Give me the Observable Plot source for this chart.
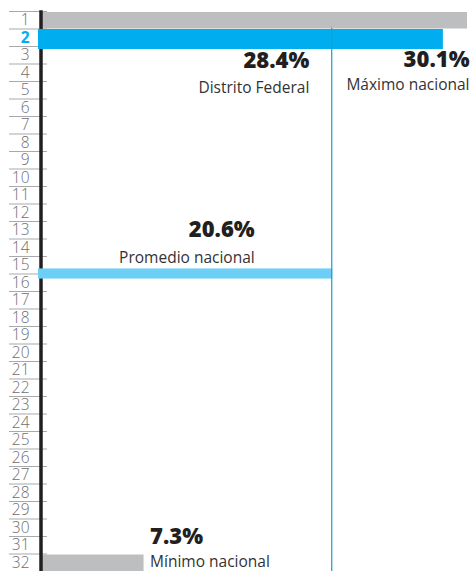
<!DOCTYPE html>
<html>
<head>
<meta charset="utf-8">
<script src="https://cdn.jsdelivr.net/npm/d3@7"></script>
<script src="https://cdn.jsdelivr.net/npm/@observablehq/plot@0.6"></script>
<style>
  html, body { margin: 0; padding: 0; background: #fff; }
  svg { display: block; }
</style>
</head>
<body>
<div id="chart"></div>
<script>
// Data
const ranks = [1,2,3,4,5,6,7,8,9,10,11,12,13,14,15,16,17,18,19,20,21,22,23,24,25,26,27,28,29,30,31,32];
const highlightRank = 2;
const barRanks = [1, 2, 32];
const barValues = [30.1, 28.4, 7.3];
const barNames = ["Máximo nacional", "Distrito Federal", "Mínimo nacional"];
const barLabels = ["30.1%", "28.4%", "7.3%"];
const promedioValue = 20.6;
const promedioRank = 15.5; // between positions 15 and 16
const promedioName = "Promedio nacional";
const promedioLabel = "20.6%";

const bars = barRanks.map((r, i) => ({rank: r, value: barValues[i], name: barNames[i], label: barLabels[i]}));
const grayBars = bars.filter(d => d.rank !== highlightRank);
const blueBars = bars.filter(d => d.rank === highlightRank);
const boundaries = [...ranks.map(r => r - 0.5), ranks[ranks.length - 1] + 0.5];
const otherRanks = ranks.filter(r => r !== highlightRank);

const maxB = bars[0], dfB = bars[1], minB = bars[2];
const prom = [{rank: promedioRank, value: promedioValue, name: promedioName, label: promedioLabel}];

const FONT = "'Open Sans', 'Noto Sans', sans-serif";
const GRAY = "#bcbec0", BLUE = "#00aeef", LIGHTBLUE = "#6dcff6", LINE = "#1b9ad6";

const chart = Plot.plot({
  width: 471,
  height: 571,
  marginLeft: 40,
  marginRight: 4,
  marginTop: 11,
  marginBottom: 0,
  style: {fontFamily: FONT, background: "#fff"},
  x: {domain: [0, 30.1], axis: null},
  y: {domain: [0.5, 32.5], reverse: true, axis: null},
  marks: [
    // row separators (ticks only)
    Plot.axisY({ticks: boundaries, label: null, tickSize: 38, dx: 7, stroke: "#a7a9ac", strokeWidth: 1, fill: "none"}),
    // rank labels
    Plot.axisY({ticks: otherRanks, label: null, tickSize: 0, tickPadding: 11, fontSize: 15.5, fill: "#6d6e71", fontWeight: 300, tickFormat: d => String(d)}),
    Plot.axisY({ticks: [highlightRank], label: null, tickSize: 0, tickPadding: 11, fontSize: 15.5, fill: BLUE, fontWeight: 700, tickFormat: d => String(d)}),
    // gray bars
    Plot.rectX(grayBars, {x1: 0, x2: "value", y1: d => d.rank - 0.5, y2: d => d.rank + 0.5, fill: GRAY, insetTop: 1}),
    // axis line
    Plot.ruleX([0], {stroke: "#231f20", strokeWidth: 3.5, dx: 0.5, y1: 0.45, y2: 32.5}),
    // highlighted bar
    Plot.rectX(blueBars, {x1: 0, x2: "value", y1: d => d.rank - 0.5, y2: d => d.rank + 0.5, fill: BLUE, insetLeft: -2, insetBottom: -3, insetTop: 0.5}),
    // promedio bar
    Plot.rectX(prom, {x1: 0, x2: "value", y1: d => d.rank - 0.29, y2: d => d.rank + 0.29, fill: LIGHTBLUE, insetLeft: -2}),
    // promedio line
    Plot.ruleX(prom, {x: "value", y1: 1.45, y2: 32.5, stroke: LINE, strokeWidth: 1.2, dx: -1}),
    // annotations: Distrito Federal
    Plot.text([dfB], {x: "value", y: "rank", text: "label", textAnchor: "end", lineAnchor: "bottom", dx: -134, dy: 30, fontSize: 22, fontWeight: 800, fill: "#231f20"}),
    Plot.text([dfB], {x: "value", y: "rank", text: "name", textAnchor: "end", lineAnchor: "bottom", dx: -134, dy: 55, fontSize: 15.5, fill: "#333"}),
    // Máximo
    Plot.text([maxB], {x: "value", y: "rank", text: "label", textAnchor: "end", lineAnchor: "bottom", dx: 2, dy: 47, fontSize: 22, fontWeight: 800, fill: "#231f20"}),
    Plot.text([maxB], {x: "value", y: "rank", text: "name", textAnchor: "end", lineAnchor: "bottom", dx: 2, dy: 70, fontSize: 15.5, fill: "#333"}),
    // Promedio
    Plot.text(prom, {x: "value", y: "rank", text: "label", textAnchor: "end", lineAnchor: "bottom", dx: -78, dy: -37, fontSize: 22, fontWeight: 800, fill: "#231f20"}),
    Plot.text(prom, {x: "value", y: "rank", text: "name", textAnchor: "end", lineAnchor: "bottom", dx: -78, dy: -11, fontSize: 15.5, fill: "#333"}),
    // Mínimo
    Plot.text([minB], {x: "value", y: "rank", text: "label", textAnchor: "start", lineAnchor: "bottom", dx: 6, dy: -19, fontSize: 22, fontWeight: 800, fill: "#231f20"}),
    Plot.text([minB], {x: "value", y: "rank", text: "name", textAnchor: "start", lineAnchor: "bottom", dx: 6, dy: 4, fontSize: 15.5, fill: "#333"})
  ]
});
document.getElementById("chart").appendChild(chart);
</script>
</body>
</html>
